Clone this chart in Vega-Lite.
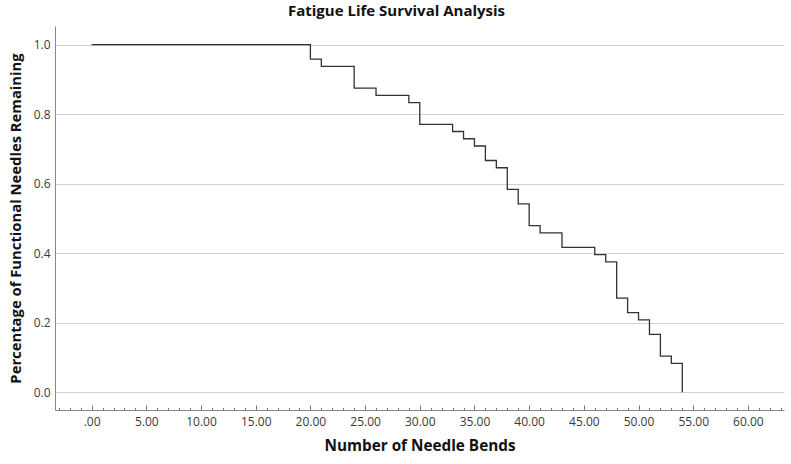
{
  "$schema": "https://vega.github.io/schema/vega-lite/v6.json",
  "width": 729,
  "height": 384,
  "autosize": {"type": "none"},
  "padding": {"left": 55, "top": 26, "right": 7, "bottom": 54},
  "background": "white",
  "config": {"view": {"stroke": null}, "font": "Open Sans"},
  "title": {"text": "Fatigue Life Survival Analysis", "fontSize": 15, "fontWeight": "bold", "color": "#111111", "anchor": "middle", "dx": -23, "offset": 7, "font": "Open Sans"},
  "data": {"values": [
    {"bends": 0, "survival": 1.0},
    {"bends": 20, "survival": 0.9583},
    {"bends": 21, "survival": 0.9375},
    {"bends": 24, "survival": 0.875},
    {"bends": 26, "survival": 0.8542},
    {"bends": 29, "survival": 0.8333},
    {"bends": 30, "survival": 0.7708},
    {"bends": 33, "survival": 0.75},
    {"bends": 34, "survival": 0.7292},
    {"bends": 35, "survival": 0.7083},
    {"bends": 36, "survival": 0.6667},
    {"bends": 37, "survival": 0.6458},
    {"bends": 38, "survival": 0.5833},
    {"bends": 39, "survival": 0.5417},
    {"bends": 40, "survival": 0.4792},
    {"bends": 41, "survival": 0.4583},
    {"bends": 43, "survival": 0.4167},
    {"bends": 46, "survival": 0.3958},
    {"bends": 47, "survival": 0.375},
    {"bends": 48, "survival": 0.2708},
    {"bends": 49, "survival": 0.2292},
    {"bends": 50, "survival": 0.2083},
    {"bends": 51, "survival": 0.1667},
    {"bends": 52, "survival": 0.1042},
    {"bends": 53, "survival": 0.0833},
    {"bends": 54, "survival": 0.0}
  ]},
  "resolve": {"axis": {"x": "independent"}},
  "layer": [
    {
      "mark": {"type": "line", "interpolate": "step-after", "color": "#333333", "strokeWidth": 1.3},
      "encoding": {
        "x": {
          "field": "bends", "type": "quantitative",
          "scale": {"domain": [-3.35, 63.3], "nice": false, "zero": false},
          "axis": {
            "orient": "bottom",
            "values": [0, 5, 10, 15, 20, 25, 30, 35, 40, 45, 50, 55, 60],
            "labelExpr": "datum.value === 0 ? '.00' : format(datum.value, '.2f')",
            "grid": false,
            "tickSize": -5,
            "tickColor": "#777777",
            "domainColor": "#888888",
            "labelPadding": 11,
            "labelFontSize": 12,
            "labelColor": "#3a3a3a",
            "title": "Number of Needle Bends",
            "titleFontSize": 15.3,
            "titleFontWeight": "bold",
            "titleColor": "#111111",
            "titlePadding": 11
          }
        },
        "y": {
          "field": "survival", "type": "quantitative",
          "scale": {"domain": [-0.051, 1.0535], "nice": false, "zero": false},
          "axis": {
            "values": [0, 0.2, 0.4, 0.6, 0.8, 1.0],
            "format": ".1f",
            "ticks": false,
            "grid": true,
            "gridColor": "#cfcfcf",
            "gridWidth": 1.2,
            "domainColor": "#888888",
            "labelPadding": 5,
            "labelFontSize": 12,
            "labelColor": "#3a3a3a",
            "title": "Percentage of Functional Needles Remaining",
            "titleFontSize": 14.8,
            "titleFontWeight": "bold",
            "titleColor": "#111111",
            "titlePadding": 10
          }
        }
      }
    },
    {
      "data": {"values": [{"bends": 0}]},
      "mark": {"type": "rule", "strokeOpacity": 0},
      "encoding": {
        "x": {
          "field": "bends", "type": "quantitative",
          "axis": {
            "orient": "bottom",
            "values": [-3, -2, -1, 1, 2, 3, 4, 6, 7, 8, 9, 11, 12, 13, 14, 16, 17, 18, 19, 21, 22, 23, 24, 26, 27, 28, 29, 31, 32, 33, 34, 36, 37, 38, 39, 41, 42, 43, 44, 46, 47, 48, 49, 51, 52, 53, 54, 56, 57, 58, 59, 61, 62, 63],
            "labels": false,
            "domain": false,
            "grid": false,
            "title": null,
            "tickSize": -2.5,
            "tickColor": "#777777"
          }
        }
      }
    }
  ]
}
